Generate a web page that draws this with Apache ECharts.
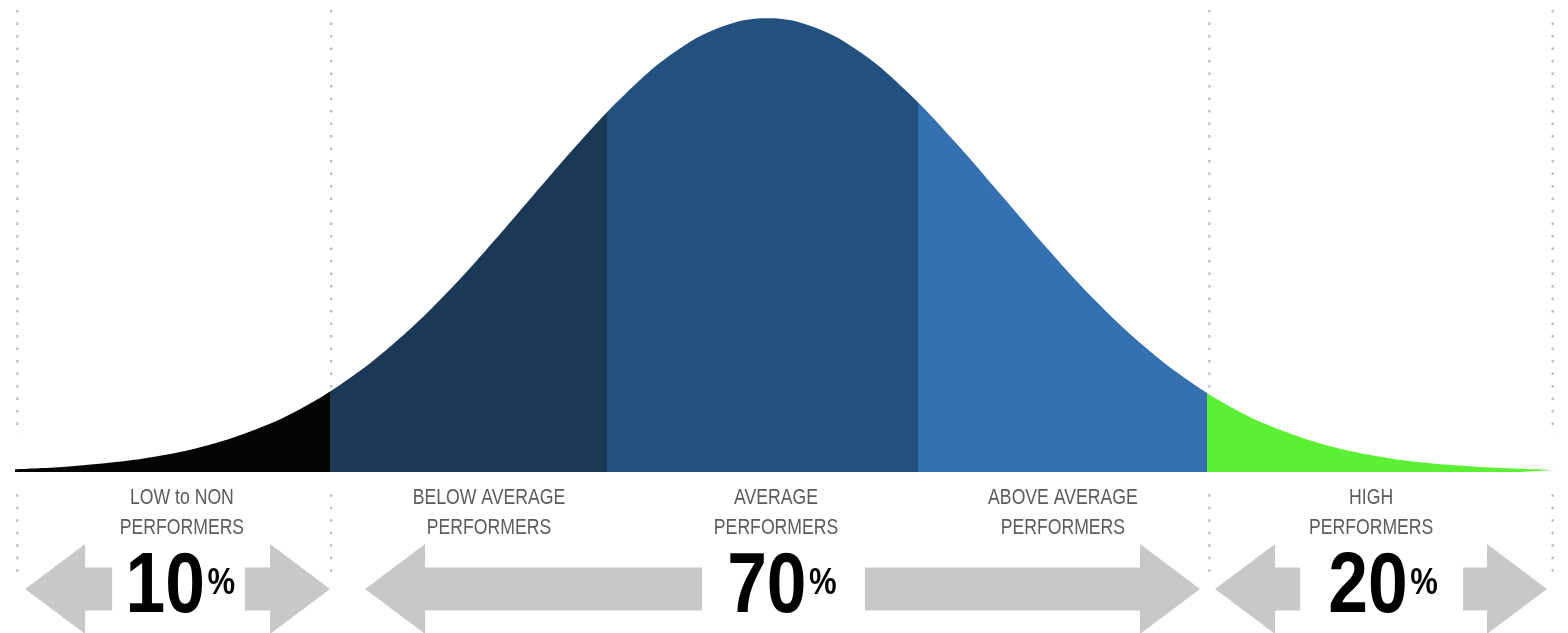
<!DOCTYPE html>
<html>
<head>
<meta charset="utf-8">
<title>Performance distribution</title>
<script src="https://cdn.jsdelivr.net/npm/echarts@6/dist/echarts.min.js"></script>
<style>
  html, body { margin: 0; padding: 0; background: #ffffff; }
  #chart { width: 1568px; height: 633px; }
</style>
</head>
<body>
<div id="chart"></div>
<script>
// bell curve (x in standard deviations, y relative to the peak)
const zScores = [-3.2, -3.0, -2.8, -2.6, -2.4, -2.2, -2.0, -1.8, -1.6, -1.4, -1.2, -1.0, -0.8, -0.6, -0.4, -0.2, 0,
  0.2, 0.4, 0.6, 0.8, 1.0, 1.2, 1.4, 1.6, 1.8, 2.0, 2.2, 2.4, 2.6, 2.8, 3.0, 3.2, 3.35];
const density = [0.006, 0.011, 0.020, 0.034, 0.056, 0.089, 0.135, 0.198, 0.278, 0.375, 0.487, 0.607, 0.726, 0.835, 0.923, 0.980, 1.0,
  0.980, 0.923, 0.835, 0.726, 0.607, 0.487, 0.375, 0.278, 0.198, 0.135, 0.089, 0.056, 0.034, 0.020, 0.012, 0.007, 0.004];

// where the colour bands change
const bandEdges = [-1.86, -0.68, 0.64, 1.87];

// dotted separators of the three groups
const groupBounds = [-3.19, -1.855, 1.88, 3.34];

// category names and where they sit
const labelNames = [
  "LOW to NON\nPERFORMERS",
  "BELOW AVERAGE\nPERFORMERS",
  "AVERAGE\nPERFORMERS",
  "ABOVE AVERAGE\nPERFORMERS",
  "HIGH\nPERFORMERS"
];
const labelCenters = [-2.49, -1.184, 0.037, 1.257, 2.568];

// share of each group
const percents = [10, 70, 20];
const percentCenters = [-2.497, 0.062, 2.619];

// arrows: [tip, tail]
const arrows = [
  [-3.157, -2.787], [-1.860, -2.222],
  [-1.711, -0.278], [1.840, 0.415],
  [1.904, 2.266], [3.316, 2.959]
];

// no narrow font installed, so regular Liberation Sans gets squeezed with scaleX
const FONT = '"Liberation Sans", Arial, sans-serif';
const bandColors = ["#050505", "#1b3857", "#22507f", "#3571b0", "#5cf034"];

let chart = echarts.init(document.getElementById("chart"));

let pieces = [];
for (let i = 0; i <= bandEdges.length; i++) {
  let p = { color: bandColors[i] };
  if (i > 0) p.gte = bandEdges[i - 1];
  if (i < bandEdges.length) p.lt = bandEdges[i];
  pieces.push(p);
}

chart.setOption({
  backgroundColor: "#ffffff",
  animation: false,
  grid: { left: 15, right: 13, top: 0, bottom: 0 },
  xAxis: { type: "value", min: -3.2, max: 3.35, show: false },
  yAxis: { type: "value", min: -0.355, max: 1.04, show: false },
  visualMap: {
    type: "piecewise",
    show: false,
    dimension: 0,
    seriesIndex: 1,
    pieces: pieces
  },
  series: [
    {
      // dotted separators
      type: "custom",
      z: 1,
      silent: true,
      data: groupBounds.map(v => [v, 0]),
      renderItem(params, api) {
        const x = api.value(0);
        const outer = params.dataIndex === 0 || params.dataIndex === groupBounds.length - 1;
        const a = api.coord([x, 1.018]);
        const b = api.coord([x, outer ? 0.081 : 0]);
        const c = api.coord([x, -0.049]);
        const d = api.coord([x, -0.24]);
        const style = { stroke: "#b9b9b9", lineWidth: 2.2, lineDash: [2.5, 10], fill: null };
        return {
          type: "group",
          children: [
            { type: "line", shape: { x1: a[0], y1: a[1], x2: b[0], y2: b[1] }, style: style },
            { type: "line", shape: { x1: c[0], y1: c[1], x2: d[0], y2: d[1] }, style: style }
          ]
        };
      }
    },
    {
      type: "line",
      z: 2,
      smooth: 0.4,
      showSymbol: false,
      silent: true,
      lineStyle: { width: 0 },
      areaStyle: { opacity: 1 },
      data: zScores.map((z, i) => [z, density[i]])
    },
    {
      // grey arrows
      type: "custom",
      z: 3,
      silent: true,
      data: arrows,
      renderItem(params, api) {
        const tip = api.coord([api.value(0), -0.258]);
        const tail = api.coord([api.value(1), -0.258]);
        const dir = tip[0] > tail[0] ? 1 : -1;
        const headLen = 60, headHalf = 45, shaftHalf = 21.5;
        const cy = tip[1];
        const hb = tip[0] - dir * headLen;
        return {
          type: "polygon",
          shape: {
            points: [
              [tail[0], cy - shaftHalf],
              [hb, cy - shaftHalf],
              [hb, cy - headHalf],
              [tip[0], cy],
              [hb, cy + headHalf],
              [hb, cy + shaftHalf],
              [tail[0], cy + shaftHalf]
            ]
          },
          style: { fill: "#c8c8c8" }
        };
      }
    },
    {
      // group names
      type: "custom",
      z: 4,
      silent: true,
      data: labelCenters.map(v => [v, -0.0915]),
      renderItem(params, api) {
        const pt = api.coord([api.value(0), api.value(1)]);
        return {
          type: "text",
          x: pt[0],
          y: pt[1],
          scaleX: 0.82,
          style: {
            text: labelNames[params.dataIndex],
            fill: "#5c5c5c",
            fontSize: 21.5,
            fontFamily: FONT,
            lineHeight: 30,
            align: "center",
            verticalAlign: "middle"
          }
        };
      }
    },
    {
      // percentages
      type: "custom",
      z: 4,
      silent: true,
      data: percentCenters.map(v => [v, -0.258]),
      renderItem(params, api) {
        const pt = api.coord([api.value(0), api.value(1)]);
        return {
          type: "text",
          x: pt[0],
          y: pt[1],
          scaleX: 0.84,
          style: {
            text: "{n|" + percents[params.dataIndex] + "}{p|%}",
            align: "center",
            verticalAlign: "middle",
            rich: {
              n: { fontSize: 85, fontWeight: "bold", fontFamily: FONT, fill: "#000000", lineHeight: 85 },
              p: { fontSize: 37, fontWeight: "bold", fontFamily: FONT, fill: "#000000", padding: [0, 0, 10, 3] }
            }
          }
        };
      }
    }
  ]
});
</script>
</body>
</html>
